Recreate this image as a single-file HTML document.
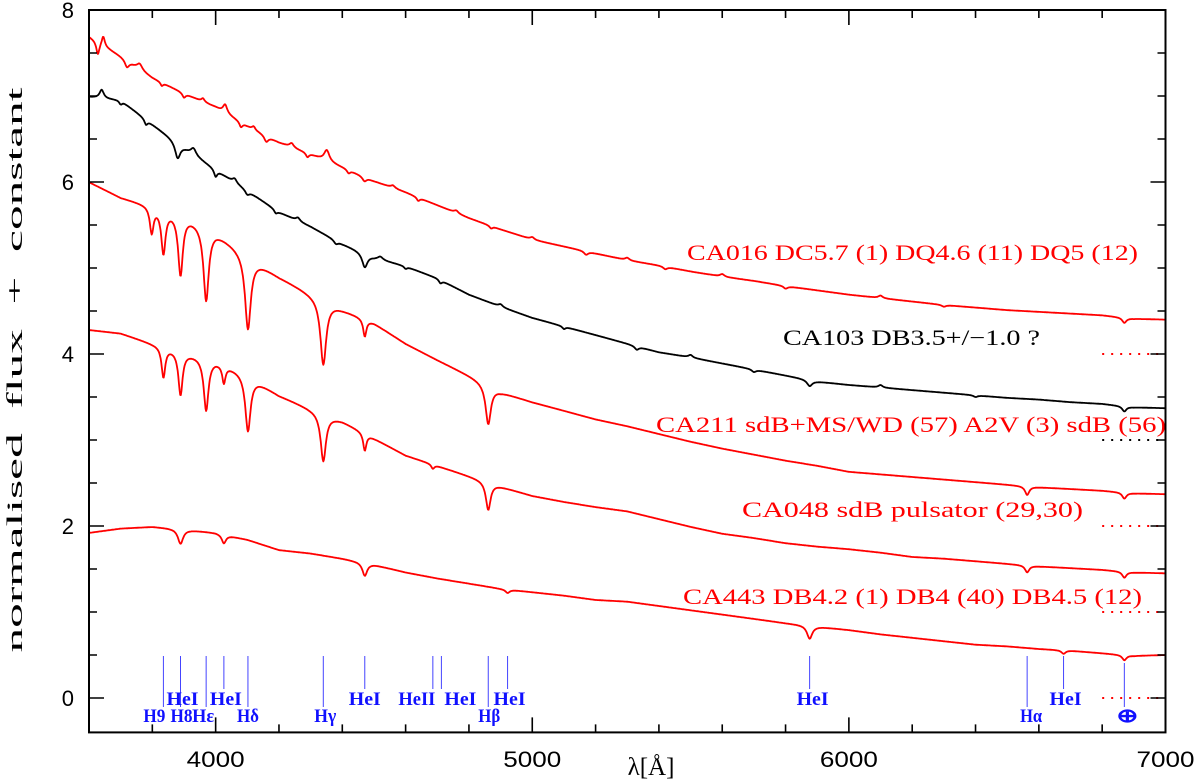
<!DOCTYPE html>
<html><head><meta charset="utf-8"><style>
html,body{margin:0;padding:0;background:#fff;}
svg{display:block;}
</style></head><body>
<svg id="chart" width="1200" height="784" viewBox="0 0 1200 784" xmlns="http://www.w3.org/2000/svg">
<g id="marks"></g>
<g id="axes"></g>
<text x="17" y="370" transform="rotate(-90 17 370)" text-anchor="middle" dominant-baseline="middle" font-family="Liberation Serif, serif" font-size="22" textLength="565" lengthAdjust="spacingAndGlyphs" xml:space="preserve">normalised  flux  +  constant</text>
<text x="651" y="775" text-anchor="middle" font-family="Liberation Serif, serif" font-size="25">λ[Å]</text>
</svg>
<script>
// ---- data ----
const gridWave = [3600,3700,3800,3900,4000,4100,4200,4300,4400,4500,4600,4700,4800,4900,5000,5100,5200,5300,5400,5500,5600,5700,5800,5900,6000,6100,6200,6300,6400,6500,6600,6700,6800,6900,7000];
const contCA016 = [7.69,7.46,7.21,7.03,6.87,6.65,6.46,6.32,6.17,6.01,5.88,5.73,5.58,5.45,5.33,5.25,5.17,5.09,5.03,4.96,4.90,4.85,4.79,4.74,4.69,4.65,4.61,4.57,4.54,4.51,4.49,4.47,4.45,4.41,4.40];
const contCA103 = [6.99,6.95,6.67,6.40,6.14,5.90,5.65,5.48,5.28,5.12,5.02,4.88,4.69,4.55,4.42,4.32,4.22,4.12,4.02,3.96,3.89,3.82,3.75,3.68,3.64,3.61,3.58,3.55,3.52,3.49,3.47,3.44,3.42,3.38,3.37];
const contCA211 = [6.00,5.82,5.72,5.62,5.42,5.15,4.90,4.70,4.52,4.36,4.12,3.93,3.75,3.56,3.44,3.34,3.24,3.16,3.07,2.98,2.90,2.83,2.76,2.70,2.63,2.60,2.57,2.54,2.51,2.48,2.45,2.43,2.41,2.38,2.37];
const contCA048 = [4.28,4.24,4.12,4.02,3.92,3.76,3.52,3.36,3.22,3.02,2.82,2.70,2.58,2.46,2.35,2.28,2.22,2.17,2.08,1.99,1.91,1.86,1.80,1.76,1.73,1.69,1.64,1.62,1.59,1.56,1.53,1.51,1.49,1.46,1.45];
const contCA443 = [1.92,1.97,1.99,1.96,1.92,1.84,1.72,1.68,1.62,1.55,1.46,1.39,1.33,1.27,1.23,1.19,1.14,1.12,1.07,1.02,0.97,0.92,0.87,0.83,0.79,0.74,0.70,0.66,0.62,0.60,0.57,0.55,0.52,0.49,0.50];
// spectral features: centre (Å), depth (flux units, negative = bump), half-width (Å)
const featCA016 = [[3628,0.15,6],[3645,-0.12,6],[3720,0.08,8],[3760,-0.07,10],[3830,0.04,5],[3900,0.05,6],[3960,-0.04,6],[4030,-0.1,8],[4080,0.06,6],[4120,-0.04,6],[4160,0.07,8],[4240,-0.05,8],[4290,0.05,6],[4351,-0.13,10],[4420,0.04,6],[4470,0.05,8],[4560,-0.03,8],[4640,0.04,6],[4760,-0.03,8],[4870,0.03,6],[5000,-0.03,8],[5170,0.04,8],[5300,-0.03,8],[5420,0.03,8],[5600,-0.03,8],[5800,0.03,8],[6100,-0.03,8],[6300,0.02,8],[6870,0.06,8]];
const featCA103 = [[3640,-0.1,8],[3700,0.05,6],[3780,0.06,6],[3880,0.18,10],[3930,-0.08,10],[4000,0.08,6],[4060,-0.05,8],[4100,0.05,8],[4190,0.04,6],[4260,-0.04,8],[4380,0.04,8],[4471,0.16,10],[4520,-0.04,10],[4600,0.03,6],[4710,0.04,6],[4900,-0.03,8],[5100,0.03,6],[5330,0.04,8],[5500,-0.03,8],[5700,0.03,8],[5876,0.07,10],[6100,-0.03,8],[6400,0.02,8],[6870,0.06,8]];
const featCA211 = [[3798,0.3,7],[3835,0.5,8],[3889,0.7,9],[3970,0.85,10],[4102,0.85,11],[4340,0.75,11],[4471,0.2,6],[4861,0.45,10],[6563,0.1,8],[6870,0.07,8]];
const featCA048 = [[3835,0.35,7],[3889,0.5,8],[3970,0.6,9],[4026,0.2,6],[4102,0.65,10],[4340,0.55,10],[4471,0.2,6],[4686,0.05,6],[4861,0.32,9],[6563,0.08,8],[6870,0.07,8]];
const featCA443 = [[3889,0.17,10],[4026,0.1,8],[4471,0.15,9],[4922,0.04,8],[5876,0.15,10],[6678,0.04,8],[6870,0.06,8]];
const lineWaves = [3835,3889,3970,4026,4102,4340,4471,4686,4713,4861,4922,5876,6563,6678,6870];
const lineLong  = [1,1,1,0,1,1,0,0,0,1,0,0,1,0,1];
const labelNames = ["H9","H8","Hε","Hδ","Hγ","Hβ","Hα","⊕","HeI","HeI","HeI","HeII","HeI","HeI","HeI","HeI"];
const labelWaves = [3835,3889,3970,4102,4340,4861,6563,6870,3889,4026,4471,4686,4713,4922,5876,6678];
const labelShift = [-9,1,-3,0,2,1,4,3,2,2,0,-16,19,2,3,2];
const xTicks = [4000,5000,6000,7000];
const yTicks = [0,2,4,6,8];

// ---- axes functions ----
const X0=89, X1=1165.5, Y0=698, PX=86;
const xs = l => X0 + (l-3600)*(X1-X0)/3400;
const ys = v => Y0 - v*PX;
const NS="http://www.w3.org/2000/svg";
const marks=document.getElementById('marks'), axes=document.getElementById('axes');
function mk(tag, attrs, parent){const e=document.createElementNS(NS,tag);for(const k in attrs)e.setAttribute(k,attrs[k]);parent.appendChild(e);return e;}

function contAt(cont,l){
  let i=Math.min(Math.floor((l-3600)/100),gridWave.length-2);
  const t=(l-gridWave[i])/100;return cont[i]+(cont[i+1]-cont[i])*t;
}
function drawSpec(cont,feat,color,name){
  let d="";
  for(let l=3600;l<=7000;l+=2){
    let v=contAt(cont,l);
    for(const f of feat){const u=(l-f[0])/f[2];v-=f[1]/(1+u*u);}
    d+=(l===3600?"M":"L")+xs(l).toFixed(1)+","+ys(v).toFixed(1);
  }
  const p=mk('path',{d:d,fill:'none',stroke:color,'stroke-width':1.8,'stroke-linejoin':'round'},marks);
  
  
}
drawSpec(contCA016,featCA016,'#ff0000','spectrum-ca016');
drawSpec(contCA103,featCA103,'#000000','spectrum-ca103');
drawSpec(contCA211,featCA211,'#ff0000','spectrum-ca211');
drawSpec(contCA048,featCA048,'#ff0000','spectrum-ca048');
drawSpec(contCA443,featCA443,'#ff0000','spectrum-ca443');

// reference dotted lines
const refLevels=[4,3,2,1,0], refColors=['#ff0000','#000','#ff0000','#ff0000','#ff0000'];
refLevels.forEach((v,i)=>{
  const r=mk('line',{x1:xs(6800),x2:xs(7000),y1:ys(v),y2:ys(v),stroke:refColors[i],'stroke-width':2,'stroke-dasharray':'2 7'},marks);
  
  
});

// spectrum labels
const labs=[["CA016  DC5.7  (1)  DQ4.6  (11)  DQ5  (12)",687,1138,252,'#ff0000'],
["CA103  DB3.5+/−1.0  ?",783,1040,337,'#000'],
["CA211  sdB+MS/WD  (57)  A2V  (3)  sdB  (56)",656,1166,424,'#ff0000'],
["CA048  sdB  pulsator  (29,30)",742,1083,509,'#ff0000'],
["CA443  DB4.2  (1)  DB4  (40)  DB4.5  (12)",683,1142,596,'#ff0000']];
labs.forEach(a=>{
  const t=mk('text',{x:a[1],y:a[3]+8,fill:a[4],'font-family':'Liberation Serif, serif','font-size':22,textLength:a[2]-a[1],lengthAdjust:'spacingAndGlyphs','xml:space':'preserve'},marks);
  t.textContent=a[0];
  
  
});

// line markers
lineWaves.forEach((l,i)=>{
  const earth=(l===6870);
  const top=earth?663:656, bot=lineLong[i]?707:689;
  const ln=mk('line',{x1:xs(l),x2:xs(l),y1:top,y2:bot,stroke:'#4444ff','stroke-width':1},marks);
  
  
});
labelNames.forEach((n,i)=>{
  const isHe=n.indexOf('He')===0;
  const w=isHe?(n==='HeII'?37:32):22;
  const t=mk('text',{x:xs(labelWaves[i])+labelShift[i],y:isHe?705:722,fill:'#1010ff','text-anchor':'middle','font-family':'Liberation Serif, serif','font-size':19,'font-weight':'bold',textLength:w,lengthAdjust:'spacingAndGlyphs'},marks);
  t.textContent=n;
  
  
});

// frame
const fr=mk('rect',{x:X0,y:ys(8),width:X1-X0,height:ys(-0.4)-ys(8),fill:'none',stroke:'#000','stroke-width':2},axes);


const yb=ys(-0.4), yt=ys(8);
let td="";
for(let l=3600;l<=7000;l+=200){const L=(l%1000===0)?15:8;td+=`M${xs(l)},${yb}v${-L}M${xs(l)},${yt}v${L}`;}
for(let v=0;v<=8;v+=0.5){const L=(v%2===0)?15:8;td+=`M${X0},${ys(v)}h${L}M${X1},${ys(v)}h${-L}`;}
const tk=mk('path',{d:td,stroke:'#000','stroke-width':1.6,fill:'none'},axes);


xTicks.forEach(l=>{
  const t=mk('text',{x:xs(l),y:767,'text-anchor':'middle','font-family':'Liberation Sans, sans-serif','font-size':22,textLength:58,lengthAdjust:'spacingAndGlyphs'},axes);
  t.textContent=String(l);
  
  
});
yTicks.forEach(v=>{
  const t=mk('text',{x:74,y:ys(v)+8,'text-anchor':'end','font-family':'Liberation Sans, sans-serif','font-size':22},axes);
  t.textContent=String(v);
  
  
});
</script>
</body></html>
